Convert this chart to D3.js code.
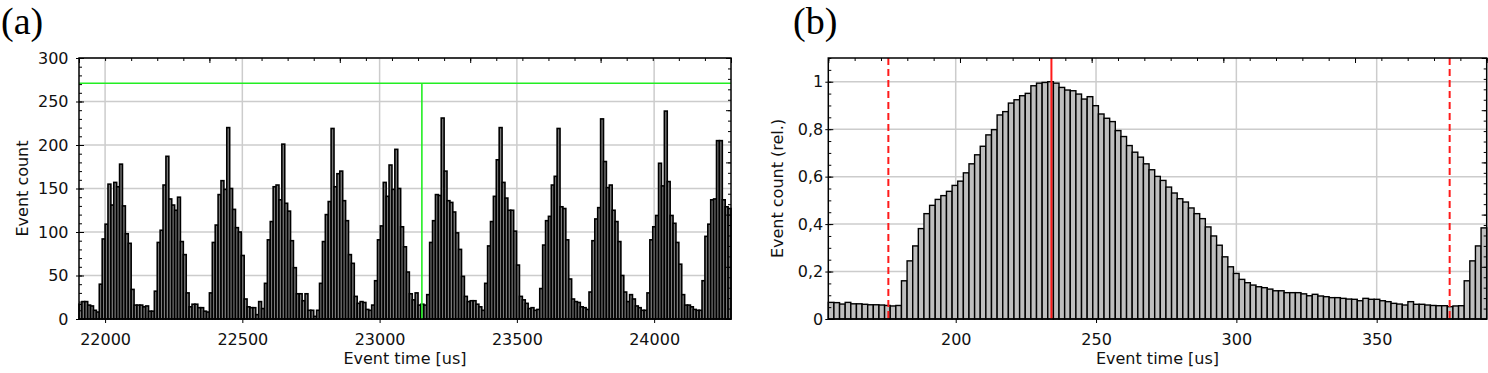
<!DOCTYPE html>
<html><head><meta charset="utf-8">
<script src="https://cdn.jsdelivr.net/npm/d3@7"></script>
<style>
html,body{margin:0;padding:0;background:#fff;}
svg{display:block;}
</style></head><body>
<svg id="c" width="1488" height="373"></svg>
<script>
// ---------- Panel (a): event count per time bin ----------
const aCounts = [
 17,20,20,16,15,10,8,40,92,109,
 155,131,157,152,178,130,98,87,34,16,
 16,16,14,15,9,9,32,88,102,154,
 187,138,131,125,140,89,74,30,14,17,
 17,13,13,9,8,30,88,108,143,159,
 149,220,150,126,105,100,73,23,14,13,
 13,5,20,12,41,91,112,152,154,137,
 201,133,124,90,59,29,29,21,29,10,
 10,3,10,41,89,120,135,219,152,167,
 170,136,113,74,64,26,18,20,19,11,
 10,16,44,91,107,157,141,177,149,195,
 150,106,83,54,29,22,30,16,17,16,
 28,88,113,143,142,231,170,136,134,123,
 99,80,49,26,20,21,21,17,14,10,
 41,84,112,141,183,220,157,139,125,125,
 101,62,26,22,18,12,13,10,11,35,
 85,113,118,154,164,219,129,127,91,46,
 23,20,19,14,13,11,31,90,115,128,
 230,181,151,154,125,112,89,50,31,20,
 28,23,15,13,10,10,30,91,106,119,
 179,153,239,158,119,110,88,63,28,16,
 16,14,11,10,10,44,95,109,137,138,
 205,205,137,129,127
];
const aTimeRange = [21905, 24280];
const aXTicks = [22000, 22500, 23000, 23500, 24000];
const aYTicks = [0, 50, 100, 150, 200, 250, 300];
const aYMinor = d3.range(0, 301, 10);
const aThresholdCount = 271;
const aThresholdTime = 23154;

// ---------- Panel (b): relative event count, folded ----------
const bRel = [
 0.070,0.069,0.063,0.070,0.064,0.064,0.062,0.060,0.060,0.059,
 0.057,0.055,0.057,0.161,0.245,0.308,0.381,0.444,0.479,0.504,
 0.520,0.538,0.563,0.581,0.616,0.654,0.692,0.728,0.776,0.798,
 0.860,0.874,0.910,0.924,0.941,0.951,0.983,0.994,0.997,1.000,
 0.994,0.976,0.965,0.962,0.948,0.927,0.937,0.899,0.864,0.846,
 0.832,0.794,0.769,0.731,0.703,0.682,0.654,0.629,0.601,0.584,
 0.556,0.531,0.507,0.493,0.468,0.444,0.423,0.388,0.350,0.311,
 0.262,0.220,0.192,0.167,0.153,0.143,0.136,0.132,0.126,0.119,
 0.119,0.111,0.111,0.111,0.106,0.098,0.104,0.097,0.094,0.090,
 0.090,0.087,0.084,0.083,0.077,0.087,0.083,0.083,0.077,0.073,
 0.066,0.063,0.059,0.073,0.062,0.062,0.059,0.057,0.056,0.056,
 0.052,0.055,0.056,0.161,0.245,0.308,0.384
];
const bTimeRange = [154.6, 389.2];
const bXTicks = [200, 250, 300, 350];
const bYTicks = [0, 0.2, 0.4, 0.6, 0.8, 1];
const bYTickLabels = ["0", "0,2", "0,4", "0,6", "0,8", "1"];
const bYMinor = d3.range(0, 1.1001, 0.05);
const bWindow = [176, 376];
const bPeak = 234.1;

const FONT = '"DejaVu Sans", sans-serif';
const svg = d3.select("#c");

function drawPanel(o) {
  const g = svg.append("g");
  const x = d3.scaleLinear().domain(o.xDomain).range([o.L, o.R]);
  const y = d3.scaleLinear().domain(o.yDomain).range([o.B, o.T]);

  // grid
  g.append("g").selectAll("line").data(o.xTicks).join("line")
    .attr("x1", d => x(d)).attr("x2", d => x(d)).attr("y1", o.T).attr("y2", o.B)
    .attr("stroke", "#cccccc").attr("stroke-width", 1.5);
  g.append("g").selectAll("line").data(o.yTicks.filter(d => d > 0)).join("line")
    .attr("x1", o.L).attr("x2", o.R).attr("y1", d => y(d)).attr("y2", d => y(d))
    .attr("stroke", "#cccccc").attr("stroke-width", 1.5);

  // bars
  const n = o.values.length, w = (o.xDomain[1] - o.xDomain[0]) / n;
  g.append("g").selectAll("rect").data(o.values).join("rect")
    .attr("x", (d, i) => x(o.xDomain[0] + i * w))
    .attr("width", (d, i) => x(o.xDomain[0] + (i + 1) * w) - x(o.xDomain[0] + i * w))
    .attr("y", d => y(d)).attr("height", d => y(0) - y(d))
    .attr("fill", o.fill).attr("stroke", "#000").attr("stroke-width", o.sw);

  if (o.extra) o.extra(g, x, y);

  // frame
  g.append("rect").attr("x", o.L).attr("y", o.T).attr("width", o.R - o.L).attr("height", o.B - o.T)
    .attr("fill", "none").attr("stroke", "#000").attr("stroke-width", 1.5);

  const clean = s => { s.select(".domain").remove(); s.attr("color", "#000"); };
  // left ticks: major crossing, minor inward
  g.append("g").attr("transform", `translate(${o.L},0)`)
    .call(d3.axisLeft(y).tickValues(o.yTicks).tickSize(3).tickFormat("")).call(clean);
  g.append("g").attr("transform", `translate(${o.L},0)`)
    .call(d3.axisRight(y).tickValues(o.yTicks).tickSize(5).tickFormat("")).call(clean);
  g.append("g").attr("transform", `translate(${o.L},0)`)
    .call(d3.axisRight(y).tickValues(o.yMinor).tickSize(3).tickFormat("")).call(clean);
  // bottom ticks outward
  g.append("g").attr("transform", `translate(0,${o.B})`)
    .call(d3.axisBottom(x).tickValues(o.xTicks).tickSize(4).tickFormat("")).call(clean);
  // top & right unlabeled axes: 5 major x 5 minor divisions
  const t = d3.scaleLinear().domain([0, 25]).range([o.L, o.R]);
  const r = d3.scaleLinear().domain([0, 25]).range([o.B, o.T]);
  g.append("g").attr("transform", `translate(0,${o.T})`)
    .call(d3.axisBottom(t).tickValues(d3.range(0, 26)).tickSize(3).tickFormat("")).call(clean);
  g.append("g").attr("transform", `translate(0,${o.T})`)
    .call(d3.axisBottom(t).tickValues(d3.range(0, 26, 5)).tickSize(5).tickFormat("")).call(clean);
  g.append("g").attr("transform", `translate(${o.R},0)`)
    .call(d3.axisLeft(r).tickValues(d3.range(0, 26)).tickSize(3).tickFormat("")).call(clean);
  g.append("g").attr("transform", `translate(${o.R},0)`)
    .call(d3.axisLeft(r).tickValues(d3.range(0, 26, 5)).tickSize(5).tickFormat("")).call(clean);

  // tick labels
  const lab = s => { s.select(".domain").remove(); s.attr("font-family", FONT).attr("font-size", 16).attr("color", "#111"); };
  g.append("g").attr("transform", `translate(${o.L},0)`)
    .call(d3.axisLeft(y).tickValues(o.yTicks).tickSize(0).tickPadding(o.yPad).tickFormat(o.yFmt)).call(lab);
  g.append("g").attr("transform", `translate(0,${o.B})`)
    .call(d3.axisBottom(x).tickValues(o.xTicks).tickSize(0).tickPadding(14.6).tickFormat(d3.format("d"))).call(lab);

  // titles
  g.append("text").attr("x", (o.L + o.R) / 2).attr("y", 364).attr("text-anchor", "middle")
    .attr("font-family", FONT).attr("font-size", 16).attr("fill", "#111").text("Event time [us]");
  g.append("text").attr("transform", `translate(${o.yTitleX},${(o.T + o.B) / 2}) rotate(-90)`)
    .attr("text-anchor", "middle").attr("font-family", FONT).attr("font-size", 16).attr("fill", "#111").text(o.yTitle);
  g.append("text").attr("x", o.tagX).attr("y", 34).attr("font-family", '"Liberation Serif", serif')
    .attr("font-size", 38).attr("fill", "#000").text(o.tag);
}

drawPanel({
  L: 79, R: 731, T: 58, B: 319,
  xDomain: aTimeRange, yDomain: [0, 300],
  values: aCounts, fill: "#7a7a7a", sw: 1.6,
  xTicks: aXTicks, yTicks: aYTicks, yMinor: aYMinor,
  yFmt: d3.format("d"), yPad: 10.5,
  yTitle: "Event count", yTitleX: 28, tag: "(a)", tagX: 1,
  extra: (g, x, y) => {
    g.append("line").attr("x1", x(aTimeRange[0])).attr("x2", x(aTimeRange[1]))
      .attr("y1", y(aThresholdCount)).attr("y2", y(aThresholdCount))
      .attr("stroke", "#22ee22").attr("stroke-width", 1.6);
    g.append("line").attr("x1", x(aThresholdTime)).attr("x2", x(aThresholdTime))
      .attr("y1", y(aThresholdCount)).attr("y2", y(0))
      .attr("stroke", "#22ee22").attr("stroke-width", 1.6);
  }
});

drawPanel({
  L: 828.3, R: 1486.7, T: 58, B: 319,
  xDomain: bTimeRange, yDomain: [0, 1.1],
  values: bRel, fill: "#bebebe", sw: 1.4,
  xTicks: bXTicks, yTicks: bYTicks, yMinor: bYMinor,
  yFmt: (d, i) => bYTickLabels[i], yPad: 5,
  yTitle: "Event count (rel.)", yTitleX: 782.5, tag: "(b)", tagX: 793,
  extra: (g, x, y) => {
    g.selectAll(".win").data(bWindow).join("line")
      .attr("x1", d => x(d)).attr("x2", d => x(d)).attr("y1", 58).attr("y2", 319)
      .attr("stroke", "#ff1a1a").attr("stroke-width", 2).attr("stroke-dasharray", "7,4");
    g.append("line").attr("x1", x(bPeak)).attr("x2", x(bPeak)).attr("y1", 58).attr("y2", 319)
      .attr("stroke", "#ff1a1a").attr("stroke-width", 2);
  }
});
</script>
</body></html>
